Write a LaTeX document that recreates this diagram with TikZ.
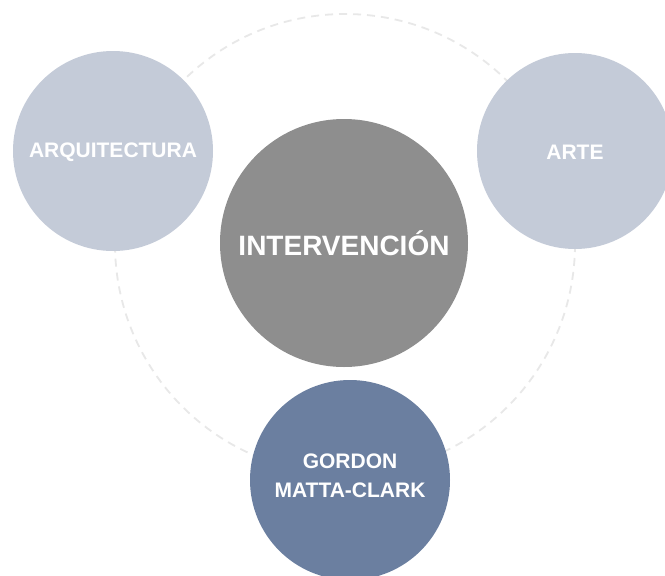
\documentclass[tikz,border=0pt]{standalone}
\usepackage{fontspec}
\setmainfont{Liberation Sans}
\definecolor{lightc}{HTML}{C4CBD8}
\definecolor{centc}{HTML}{8E8E8E}
\definecolor{bluec}{HTML}{6B7FA0}
\definecolor{dashc}{HTML}{E8E8E8}
\tikzset{
  bubble/.style={circle, inner sep=0pt},
  btext/.style={text=white, font=\bfseries\fontsize{21}{29}\selectfont, align=center, inner sep=0pt},
  ring/.style={draw=dashc, line width=1.8pt, dash pattern=on 8pt off 6pt},
}
\begin{document}
\begin{tikzpicture}[x=1pt,y=-1pt]
\useasboundingbox (0,0) rectangle (665,576);
\clip (0,0) rectangle (665,576);
\fill[white] (0,0) rectangle (665,576);
\coordinate (ringc) at (345,244);
\draw[ring] (ringc) circle[radius=230];
\node[bubble, fill=lightc, minimum size=200pt] (arq) at (113,151) {};
\node[bubble, fill=lightc, minimum size=196pt] (arte) at (575,151) {};
\node[bubble, fill=centc, minimum size=248pt] (int) at (344,243) {};
\node[bubble, fill=bluec, minimum size=200pt] (gmc) at (350,480) {};
\node[btext] (arqt) at ([yshift=-1pt]arq.center) {ARQUITECTURA};
\node[btext] (artet) at ([yshift=-1pt]arte.center) {ARTE};
\node[btext, font=\bfseries\fontsize{28}{32}\selectfont] (intt) at (int.center) {INTERVENCIÓN};
\node[btext] (gmct) at ([yshift=4pt]gmc.center) {GORDON\\MATTA-CLARK};
\end{tikzpicture}
\end{document}
